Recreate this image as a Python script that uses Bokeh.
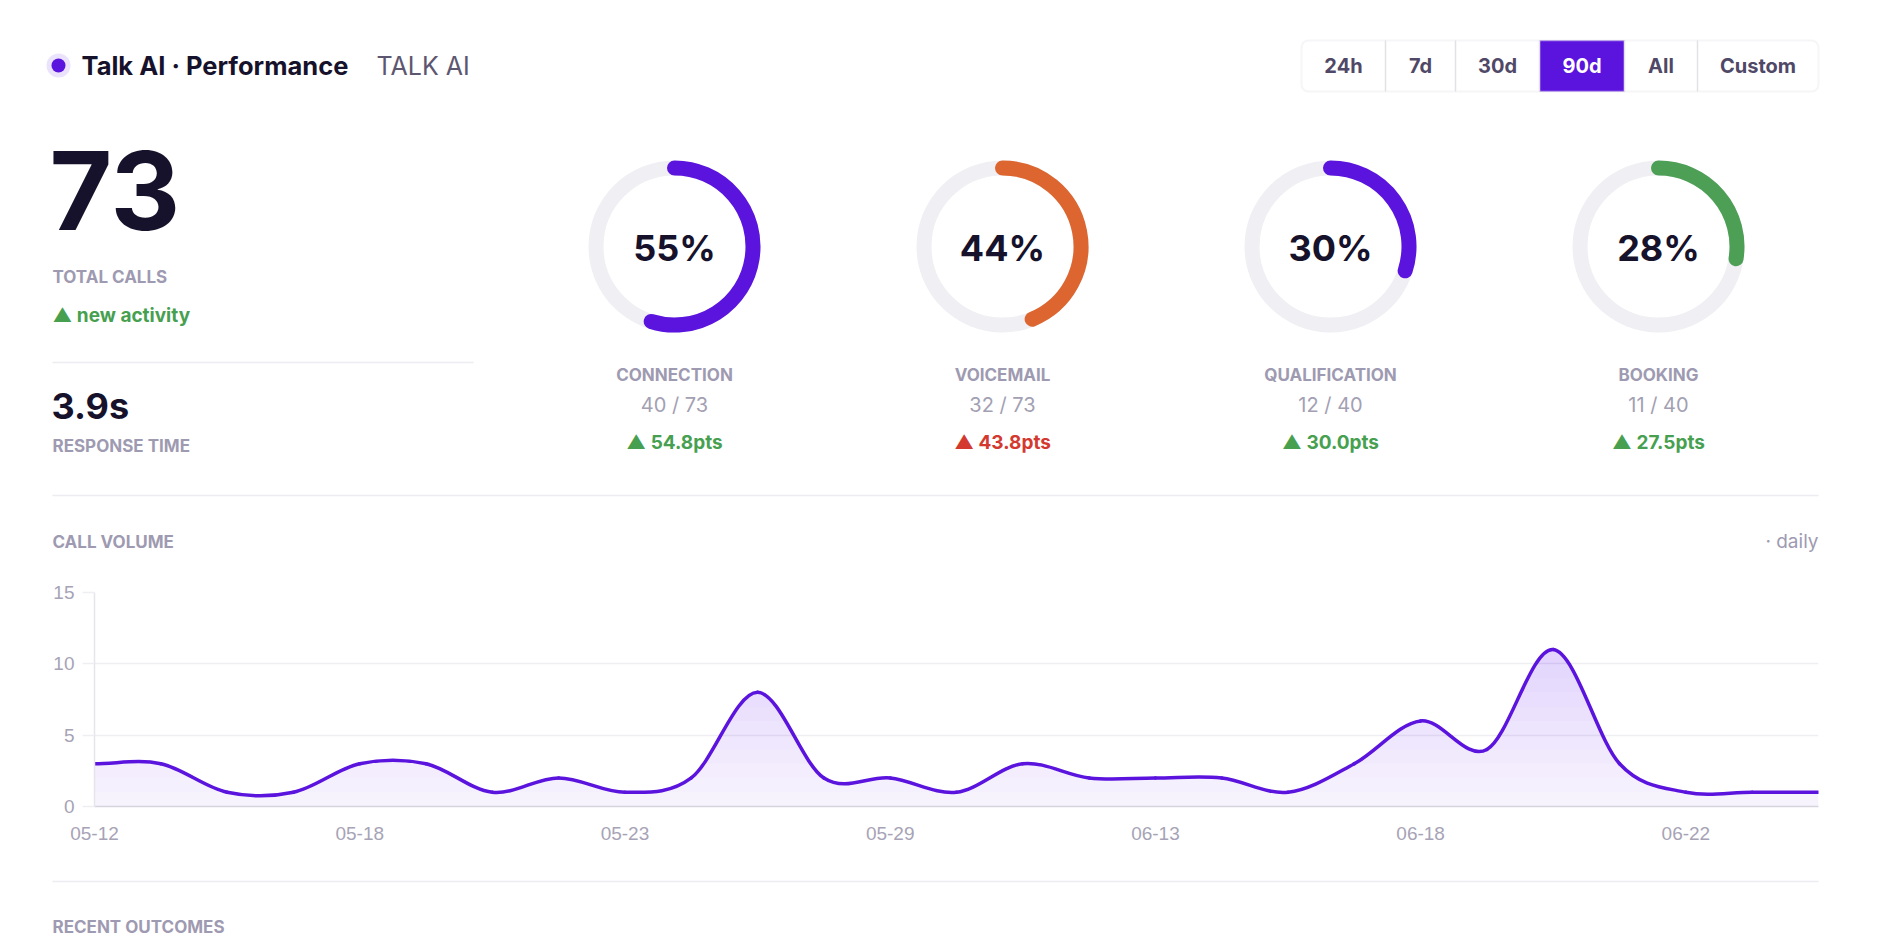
import math
import numpy as np
from bokeh.plotting import figure
from bokeh.models import Range1d, FixedTicker, BoxAnnotation, ColumnDataSource
from bokeh.layouts import column
from bokeh.embed import file_html
from bokeh.resources import INLINE
from bokeh.core.properties import value

# ---------------- data ----------------
title = "Talk AI · Performance"
subtitle = "TALK AI"
range_buttons = ["24h", "7d", "30d", "90d", "All", "Custom"]
active_range = "90d"

total_calls = 73
total_calls_label = "TOTAL CALLS"
activity_note = "▲ new activity"
response_time = "3.9s"
response_label = "RESPONSE TIME"

gauge_names = ["CONNECTION", "VOICEMAIL", "QUALIFICATION", "BOOKING"]
gauge_hits = [40, 32, 12, 11]
gauge_base = [73, 73, 40, 40]
gauge_delta = [54.8, 43.8, 30.0, 27.5]
gauge_delta_good = [True, False, True, True]

volume_title = "CALL VOLUME"
volume_note = "· daily"
tick_labels = ["05-12", "05-18", "05-23", "05-29", "06-13", "06-18", "06-22"]
call_volume = [3, 3, 1, 1, 3, 3, 1, 2, 1, 2, 8, 2, 2, 1, 3, 2, 2, 2, 1, 3, 6, 4, 11, 3, 1, 1, 1]
y_ticks = [0, 5, 10, 15]
footer_title = "RECENT OUTCOMES"

# ---------------- style ----------------
W = 1880
H1, H2, H3 = 560, 310, 82
FONT = "Inter"
INK = "#17122b"
MUTED = "#9e9ab1"
SOFT = "#a3a0b3"
PURPLE = "#5b13de"
TRACK = "#efeff4"
RULE = "#ececf1"
GREEN = "#47a04f"
RED = "#d3392f"
gauge_colors = [PURPLE, "#dc6530", PURPLE, "#4c9f55"]


def txt(fig, x, y, s, size, color, bold=False, align="left", baseline="middle", font=FONT):
    fig.text(x=[x], y=[y], text=[s], text_font=value(font), text_font_size=f"{size}px",
             text_font_style="bold" if bold else "normal", text_color=color,
             text_align=align, text_baseline=baseline)


def unalign(fig):
    try:
        fig.frame_align = False
    except Exception:
        pass


# ================= top panel (header + KPIs) =================
top = figure(width=W, height=H1, x_range=Range1d(0, W), y_range=Range1d(0, H1),
             x_axis_type=None, y_axis_type=None, toolbar_location=None,
             output_backend="svg", min_border=0, outline_line_color=None, title=None)
unalign(top)


def Y(py):
    return H1 - py


# title
top.circle(x=[58], y=[Y(65)], radius=12, fill_color="#ebe3fc", line_color=None)
top.circle(x=[58], y=[Y(65)], radius=7, fill_color=PURPLE, line_color=None)
txt(top, 81, Y(65), title, 25.5, INK, bold=True)
txt(top, 376, Y(65), subtitle, 25, "#5d5670")

# range buttons
edges = [1301, 1385, 1455, 1539, 1624, 1697, 1818]
btn_top, btn_bot = 40, 91
ai = range_buttons.index(active_range)
top.quad(left=[edges[ai]], right=[edges[ai + 1]], top=[Y(btn_top)], bottom=[Y(btn_bot)],
         fill_color=PURPLE, line_color=None)
top.segment(x0=edges[1:-1], x1=edges[1:-1], y0=[Y(btn_top)] * 5, y1=[Y(btn_bot)] * 5,
            line_color="#e2e1e8", line_width=1.5)
top.add_layout(BoxAnnotation(left=edges[0], right=edges[-1], top=Y(btn_top), bottom=Y(btn_bot),
                             fill_color=None, line_color="#e0dfe6", line_width=2, border_radius=7))
for i, b in enumerate(range_buttons):
    cx = (edges[i] + edges[i + 1]) / 2
    txt(top, cx, Y(65), b, 20, "#ffffff" if i == ai else "#4f4866", bold=True, align="center")

# left KPI block
txt(top, 49, Y(190), str(total_calls), 108, INK, bold=True)
txt(top, 52, Y(276), total_calls_label, 17, MUTED, bold=True)
txt(top, 52, Y(315), activity_note, 19, GREEN, bold=True)
top.segment(x0=[52], x1=[473], y0=[Y(362)], y1=[Y(362)], line_color=RULE, line_width=1.5)
txt(top, 51, Y(405), response_time, 36, INK, bold=True)
txt(top, 52, Y(445), response_label, 17, MUTED, bold=True)

# gauges
gx = [674, 1002, 1330, 1658]
gy = [Y(246)] * 4
frac = [h / b for h, b in zip(gauge_hits, gauge_base)]
gsrc = ColumnDataSource(dict(
    x=gx, y=gy,
    start=[math.pi / 2] * 4,
    end=[math.pi / 2 - 2 * math.pi * f for f in frac],
    color=gauge_colors,
    pct=[f"{int(f * 100 + 0.5)}%" for f in frac],
    name=gauge_names,
    ratio=[f"{h} / {b}" for h, b in zip(gauge_hits, gauge_base)],
    delta=[f"▲ {d:.1f}pts" for d in gauge_delta],
    dcolor=[GREEN if g else RED for g in gauge_delta_good],
    y_name=[Y(374)] * 4, y_ratio=[Y(404)] * 4, y_delta=[Y(442)] * 4, y_pct=[Y(247)] * 4,
))
R = 78.5
top.circle(x="x", y="y", radius=R, fill_color=None, line_color=TRACK, line_width=15, source=gsrc)
top.arc(x="x", y="y", radius=R, start_angle="start", end_angle="end", direction="clock",
        line_color="color", line_width=15, line_cap="round", source=gsrc)
top.text(x="x", y="y_pct", text="pct", source=gsrc, text_font=value(FONT), text_font_size="36px",
         text_font_style="bold", text_color=INK, text_align="center", text_baseline="middle")
top.text(x="x", y="y_name", text="name", source=gsrc, text_font=value(FONT), text_font_size="17px",
         text_font_style="bold", text_color=MUTED, text_align="center", text_baseline="middle")
top.text(x="x", y="y_ratio", text="ratio", source=gsrc, text_font=value(FONT), text_font_size="20px",
         text_color=SOFT, text_align="center", text_baseline="middle")
top.text(x="x", y="y_delta", text="delta", source=gsrc, text_font=value(FONT), text_font_size="19px",
         text_font_style="bold", text_color="dcolor", text_align="center", text_baseline="middle")

# section rule + chart header
top.segment(x0=[52], x1=[1818], y0=[Y(495)], y1=[Y(495)], line_color=RULE, line_width=1.5)
txt(top, 52, Y(541), volume_title, 17, MUTED, bold=True)
txt(top, 1818, Y(541), volume_note, 19, MUTED, align="right")

# ================= chart =================
n = len(call_volume)
ch = figure(width=W, height=H2, x_range=Range1d(0, n - 1), y_range=Range1d(0, 15),
            toolbar_location=None, output_backend="svg", title=None,
            min_border_left=94, min_border_right=62, min_border_top=32, min_border_bottom=64,
            outline_line_color=None)
unalign(ch)

# smooth (Catmull-Rom) path from the daily values
xs_idx = np.arange(n, dtype=float)
vals = np.array(call_volume, dtype=float)
x0s, y0s, x1s, y1s, cx0s, cy0s, cx1s, cy1s = [], [], [], [], [], [], [], []
fx, fy = [], []
for i in range(n - 1):
    p0 = vals[max(i - 1, 0)]
    p1, p2 = vals[i], vals[i + 1]
    p3 = vals[min(i + 2, n - 1)]
    m1 = (p2 - p0) / 2.0
    m2 = (p3 - p1) / 2.0
    x0s.append(xs_idx[i]); y0s.append(p1)
    x1s.append(xs_idx[i + 1]); y1s.append(p2)
    cx0s.append(xs_idx[i] + 1 / 3); cy0s.append(p1 + m1 / 3)
    cx1s.append(xs_idx[i + 1] - 1 / 3); cy1s.append(p2 - m2 / 3)
    t = np.linspace(0, 1, 16, endpoint=(i == n - 2))
    h00 = 2 * t**3 - 3 * t**2 + 1
    h10 = t**3 - 2 * t**2 + t
    h01 = -2 * t**3 + 3 * t**2
    h11 = t**3 - t**2
    fx.extend(xs_idx[i] + t)
    fy.extend(h00 * p1 + h10 * m1 + h01 * p2 + h11 * m2)
fx = np.array(fx)
fy = np.array(fy)

# soft vertical gradient under the curve (stacked translucent layers)
ch.varea(x=fx, y1=np.zeros_like(fy), y2=fy, fill_color=PURPLE, fill_alpha=0.05)
for lvl in range(1, 12):
    ch.varea(x=fx, y1=np.full_like(fy, lvl), y2=np.maximum(fy, lvl), fill_color=PURPLE, fill_alpha=0.013)

ch.bezier(x0=x0s, y0=y0s, x1=x1s, y1=y1s, cx0=cx0s, cy0=cy0s, cx1=cx1s, cy1=cy1s,
          line_color=PURPLE, line_width=3.5, line_cap="round")

tick_idx = [4 * k for k in range(len(tick_labels))]
ch.xaxis.ticker = FixedTicker(ticks=tick_idx)
ch.xaxis.major_label_overrides = {t: lab for t, lab in zip(tick_idx, tick_labels)}
ch.yaxis.ticker = FixedTicker(ticks=y_ticks)
ch.xgrid.visible = False
ch.ygrid.ticker = FixedTicker(ticks=y_ticks)
ch.ygrid.grid_line_color = "#efeef3"
ch.ygrid.grid_line_width = 1.5

TICKFONT = "'Liberation Sans Narrow', 'Liberation Sans', sans-serif"
for ax in (ch.xaxis, ch.yaxis):
    ax.major_label_text_font = TICKFONT
    ax.major_label_text_font_size = "19px"
    ax.major_label_text_color = "#a7a3b6"
    ax.minor_tick_line_color = None

ch.xaxis.axis_line_color = "#d6d4dd"
ch.xaxis.axis_line_width = 1.5
ch.xaxis.major_tick_line_color = None
ch.xaxis.major_label_standoff = 14
ch.yaxis.axis_line_color = "#e6e5eb"
ch.yaxis.axis_line_width = 1.5
ch.yaxis.major_tick_line_color = "#efeef3"
ch.yaxis.major_tick_line_width = 1.5
ch.yaxis.major_tick_out = 12
ch.yaxis.major_tick_in = 0
ch.yaxis.major_label_standoff = 8

# ================= footer =================
bot = figure(width=W, height=H3, x_range=Range1d(0, W), y_range=Range1d(0, H3),
             x_axis_type=None, y_axis_type=None, toolbar_location=None,
             output_backend="svg", min_border=0, outline_line_color=None, title=None)
unalign(bot)
bot.segment(x0=[52], x1=[1818], y0=[H3 - 11], y1=[H3 - 11], line_color=RULE, line_width=1.5)
txt(bot, 52, H3 - 56, footer_title, 17, MUTED, bold=True)

layout = column(top, ch, bot, spacing=0)
open("out.html", "w").write(file_html(layout, INLINE))
